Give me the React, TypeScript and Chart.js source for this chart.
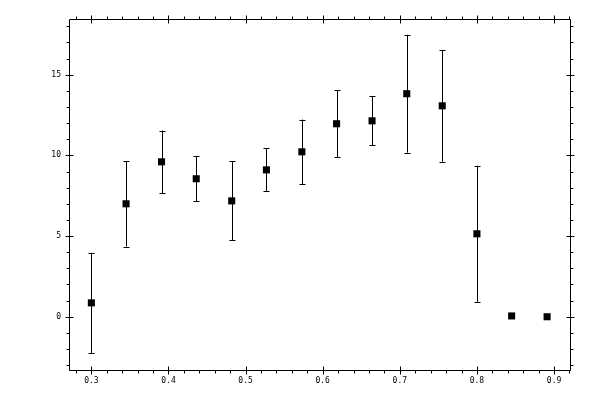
import React, { useEffect, useRef } from "react";
import { Chart, registerables, Plugin } from "chart.js";

Chart.register(...registerables);

// measured points (x, y, symmetric error)
const xValues = [0.3, 0.345, 0.391, 0.436, 0.482, 0.527, 0.573, 0.618, 0.664, 0.709, 0.755, 0.8, 0.845, 0.891];
const yValues = [0.86, 7.0, 9.6, 8.55, 7.18, 9.1, 10.22, 11.96, 12.14, 13.82, 13.07, 5.14, 0.05, 0.0];
const yErrors = [3.1, 2.65, 1.94, 1.38, 2.45, 1.33, 2.0, 2.08, 1.52, 3.65, 3.47, 4.22, 0, 0];

// axis ticks
const xMajorTicks = [0.3, 0.4, 0.5, 0.6, 0.7, 0.8, 0.9];
const xMinorStep = 0.02;
const yMajorTicks = [0, 5, 10, 15];
const yMinorStep = 1;

const X_MIN = 0.271;
const X_MAX = 0.9207;
const Y_MIN = -3.3;
const Y_MAX = 18.45;

function buildTicks(min: number, max: number, step: number, majors: number[]) {
  const out: { value: number; major: boolean }[] = [];
  const start = Math.ceil(min / step - 1e-9);
  const end = Math.floor(max / step + 1e-9);
  for (let i = start; i <= end; i++) {
    const v = Math.round(i * step * 1000) / 1000;
    out.push({ value: v, major: majors.some((m) => Math.abs(m - v) < 1e-6) });
  }
  return out;
}

const frameAndErrors: Plugin<"scatter"> = {
  id: "frameAndErrors",
  beforeDatasetsDraw(chart) {
    const ctx = chart.ctx;
    const x = chart.scales.x;
    const y = chart.scales.y;
    ctx.save();
    ctx.strokeStyle = "#000";
    ctx.lineWidth = 1;
    ctx.beginPath();
    xValues.forEach((xv, i) => {
      const e = yErrors[i];
      if (!e) return;
      const px = Math.round(x.getPixelForValue(xv)) + 0.5;
      const top = y.getPixelForValue(yValues[i] + e);
      const bot = y.getPixelForValue(yValues[i] - e);
      ctx.moveTo(px, top);
      ctx.lineTo(px, bot);
      ctx.moveTo(px - 3, Math.round(top) + 0.5);
      ctx.lineTo(px + 3, Math.round(top) + 0.5);
      ctx.moveTo(px - 3, Math.round(bot) + 0.5);
      ctx.lineTo(px + 3, Math.round(bot) + 0.5);
    });
    ctx.stroke();
    ctx.restore();
  },
  afterDraw(chart) {
    const ctx = chart.ctx;
    const { left, right, top, bottom } = chart.chartArea;
    const l = Math.round(left) + 0.5;
    const r = Math.round(right) + 0.5;
    const t = Math.round(top) + 0.5;
    const b = Math.round(bottom) + 0.5;
    ctx.save();
    ctx.strokeStyle = "#000";
    ctx.lineWidth = 1;
    ctx.beginPath();
    ctx.rect(l, t, r - l, b - t);
    const xs = chart.scales.x;
    xs.ticks.forEach((tk: any) => {
      const px = Math.round(xs.getPixelForValue(tk.value)) + 0.5;
      if (tk.major) {
        ctx.moveTo(px, b - 4);
        ctx.lineTo(px, b + 4);
        ctx.moveTo(px, t - 4);
        ctx.lineTo(px, t + 4);
      } else {
        ctx.moveTo(px, b);
        ctx.lineTo(px, b + 3);
        ctx.moveTo(px, t);
        ctx.lineTo(px, t - 3);
      }
    });
    const ys = chart.scales.y;
    ys.ticks.forEach((tk: any) => {
      const py = Math.round(ys.getPixelForValue(tk.value)) + 0.5;
      if (tk.major) {
        ctx.moveTo(l - 4, py);
        ctx.lineTo(l + 4, py);
        ctx.moveTo(r - 4, py);
        ctx.lineTo(r + 4, py);
      } else {
        ctx.moveTo(l, py);
        ctx.lineTo(l - 3, py);
        ctx.moveTo(r, py);
        ctx.lineTo(r + 3, py);
      }
    });
    ctx.stroke();
    ctx.restore();
  },
};

export default function App() {
  const canvasRef = useRef<HTMLCanvasElement | null>(null);

  useEffect(() => {
    const canvas = canvasRef.current;
    if (!canvas) return;

    const font = { family: "'DejaVu Sans Mono', monospace", size: 8 };

    const chart = new Chart(canvas, {
      type: "scatter",
      data: {
        datasets: [
          {
            data: xValues.map((xv, i) => ({ x: xv, y: yValues[i] })),
            backgroundColor: "#000",
            borderWidth: 0,
            pointStyle: "rect",
            pointRadius: 5,
          },
        ],
      },
      options: {
        responsive: false,
        animation: false,
        devicePixelRatio: 1,
        layout: { padding: { left: 0, top: 19, right: 30, bottom: 0 } },
        plugins: { legend: { display: false }, tooltip: { enabled: false } },
        scales: {
          x: {
            type: "linear",
            min: X_MIN,
            max: X_MAX,
            afterBuildTicks: (scale) => {
              scale.ticks = buildTicks(X_MIN, X_MAX, xMinorStep, xMajorTicks);
            },
            afterFit: (scale) => {
              scale.height = 30;
            },
            grid: { display: false, drawTicks: false, tickLength: 0 },
            border: { display: false },
            ticks: {
              autoSkip: false,
              maxRotation: 0,
              padding: 6,
              color: "#000",
              font,
              callback: (v) => {
                const n = Number(v);
                return xMajorTicks.some((m) => Math.abs(m - n) < 1e-6) ? n.toFixed(1) : "";
              },
            },
          },
          y: {
            type: "linear",
            min: Y_MIN,
            max: Y_MAX,
            afterBuildTicks: (scale) => {
              scale.ticks = buildTicks(Y_MIN, Y_MAX, yMinorStep, yMajorTicks);
            },
            afterFit: (scale) => {
              scale.width = 69;
            },
            grid: { display: false, drawTicks: false, tickLength: 0 },
            border: { display: false },
            ticks: {
              autoSkip: false,
              padding: 8,
              color: "#000",
              font,
              callback: (v) => {
                const n = Number(v);
                return yMajorTicks.includes(n) ? String(n) : "";
              },
            },
          },
        },
      },
      plugins: [frameAndErrors],
    });

    return () => {
      chart.destroy();
    };
  }, []);

  return (
    <div style={{ position: "absolute", left: 0, top: 0, width: 600, height: 400, background: "#fff" }}>
      <canvas ref={canvasRef} width={600} height={400}></canvas>
    </div>
  );
}
